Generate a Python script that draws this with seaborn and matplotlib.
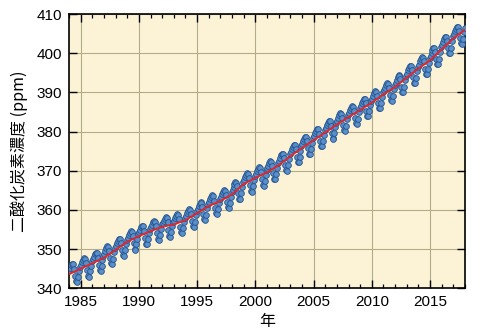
import numpy as np
import pandas as pd
import matplotlib
matplotlib.use("Agg")
import matplotlib.pyplot as plt
import seaborn as sns
from matplotlib.ticker import MultipleLocator

# ---- data ----
first_year = 1984
last_year = 2017
co2_monthly = [
    344.6, 345.3, 345.9, 346.3, 346.1, 345.0, 343.2, 341.8, 341.6, 342.9, 344.4, 345.5,  # 1984
    346.0, 346.7, 347.3, 347.7, 347.5, 346.4, 344.6, 343.2, 343.0, 344.3, 345.8, 346.9,  # 1985
    347.4, 348.1, 348.7, 349.1, 348.9, 347.8, 346.0, 344.6, 344.4, 345.7, 347.2, 348.3,  # 1986
    348.8, 349.6, 350.2, 350.7, 350.6, 349.5, 347.7, 346.4, 346.2, 347.6, 349.2, 350.3,  # 1987
    350.8, 351.6, 352.2, 352.7, 352.6, 351.6, 349.7, 348.4, 348.3, 349.7, 351.2, 352.4,  # 1988
    352.9, 353.6, 354.2, 354.6, 354.4, 353.3, 351.5, 350.1, 349.9, 351.2, 352.7, 353.8,  # 1989
    354.3, 355.0, 355.6, 356.0, 355.8, 354.7, 352.8, 351.4, 351.2, 352.5, 354.0, 355.2,  # 1990
    355.6, 356.2, 356.8, 357.2, 357.0, 355.9, 354.0, 352.6, 352.4, 353.7, 355.2, 356.3,  # 1991
    356.6, 357.3, 357.8, 358.2, 357.9, 356.8, 354.8, 353.4, 353.1, 354.4, 355.8, 356.9,  # 1992
    357.3, 357.9, 358.5, 358.9, 358.7, 357.6, 355.7, 354.3, 354.1, 355.4, 356.9, 358.0,  # 1993
    358.4, 359.1, 359.8, 360.2, 360.1, 359.0, 357.2, 355.8, 355.7, 357.0, 358.6, 359.7,  # 1994
    360.2, 360.9, 361.6, 362.0, 361.9, 360.8, 359.0, 357.6, 357.5, 358.8, 360.4, 361.5,  # 1995
    362.0, 362.7, 363.3, 363.7, 363.5, 362.4, 360.5, 359.1, 358.9, 360.2, 361.7, 362.9,  # 1996
    363.3, 364.0, 364.7, 365.1, 364.9, 363.9, 362.0, 360.7, 360.5, 361.9, 363.4, 364.5,  # 1997
    365.0, 365.8, 366.5, 367.1, 367.0, 366.0, 364.2, 362.9, 362.8, 364.3, 365.9, 367.1,  # 1998
    367.6, 368.3, 368.9, 369.4, 369.2, 368.1, 366.3, 364.9, 364.7, 366.1, 367.6, 368.7,  # 1999
    369.2, 369.9, 370.5, 370.9, 370.7, 369.6, 367.8, 366.4, 366.2, 367.5, 369.0, 370.1,  # 2000
    370.6, 371.3, 372.0, 372.4, 372.3, 371.2, 369.4, 368.0, 367.9, 369.2, 370.8, 371.9,  # 2001
    372.4, 373.2, 373.9, 374.4, 374.3, 373.3, 371.5, 370.1, 370.0, 371.4, 373.0, 374.2,  # 2002
    374.7, 375.5, 376.1, 376.6, 376.5, 375.5, 373.6, 372.3, 372.2, 373.6, 375.1, 376.3,  # 2003
    376.8, 377.6, 378.2, 378.7, 378.6, 377.5, 375.7, 374.4, 374.2, 375.6, 377.2, 378.3,  # 2004
    378.8, 379.6, 380.2, 380.7, 380.6, 379.5, 377.7, 376.4, 376.2, 377.6, 379.2, 380.3,  # 2005
    380.8, 381.6, 382.2, 382.7, 382.6, 381.5, 379.7, 378.4, 378.2, 379.6, 381.2, 382.3,  # 2006
    382.8, 383.5, 384.2, 384.7, 384.5, 383.5, 381.6, 380.3, 380.2, 381.5, 383.1, 384.2,  # 2007
    384.7, 385.4, 386.1, 386.5, 386.4, 385.3, 383.5, 382.1, 382.0, 383.3, 384.9, 386.0,  # 2008
    386.5, 387.2, 387.9, 388.4, 388.2, 387.2, 385.3, 384.0, 383.9, 385.2, 386.8, 387.9,  # 2009
    388.4, 389.2, 389.8, 390.3, 390.2, 389.2, 387.3, 386.0, 385.9, 387.3, 388.8, 390.0,  # 2010
    390.5, 391.2, 391.9, 392.4, 392.2, 391.2, 389.3, 388.0, 387.9, 389.2, 390.8, 391.9,  # 2011
    392.4, 393.2, 393.9, 394.4, 394.3, 393.3, 391.5, 390.2, 390.1, 391.5, 393.1, 394.3,  # 2012
    394.8, 395.6, 396.3, 396.8, 396.7, 395.7, 393.9, 392.5, 392.4, 393.8, 395.4, 396.6,  # 2013
    397.1, 397.9, 398.5, 399.0, 398.9, 397.9, 396.0, 394.7, 394.6, 396.0, 397.5, 398.7,  # 2014
    399.2, 400.1, 400.8, 401.3, 401.3, 400.3, 398.5, 397.3, 397.2, 398.6, 400.3, 401.5,  # 2015
    402.0, 402.9, 403.6, 404.1, 404.1, 403.1, 401.3, 400.1, 400.0, 401.4, 403.1, 404.3,  # 2016
    404.8, 405.6, 406.3, 406.7, 406.6, 405.6, 403.8, 402.5, 402.4, 403.7, 405.3, 406.5,  # 2017
]
trend_years = list(range(1984, 2019))
trend_values = [
    343.6, 345.0, 346.4, 347.8, 349.8, 351.9, 353.3, 354.6, 355.7, 356.3,
    357.4, 359.2, 361.0, 362.3, 364.0, 366.6, 368.2, 369.6, 371.4, 373.7,
    375.8, 377.8, 379.8, 381.8, 383.7, 385.5, 387.4, 389.5, 391.4, 393.8,
    396.1, 398.2, 401.0, 403.8, 406.0,
]
x_ticks = [1985, 1990, 1995, 2000, 2005, 2010, 2015]
y_ticks = [340, 350, 360, 370, 380, 390, 400, 410]
x_label = "年"
y_label = "二酸化炭素濃度 (ppm)"

# month positions (mid-month, decimal year)
n_years = last_year - first_year + 1
month_idx = np.tile(np.arange(12), n_years)
year_idx = np.repeat(np.arange(first_year, last_year + 1), 12)
df_m = pd.DataFrame({"t": year_idx + (month_idx + 0.5) / 12.0, "co2": co2_monthly})
df_t = pd.DataFrame({"t": trend_years, "co2": trend_values})

# ---- style ----
sns.set_theme(style="ticks")
plt.rcParams["font.family"] = ["Liberation Sans", "Noto Sans CJK JP", "DejaVu Sans"]

fig = plt.figure(figsize=(4.87, 3.35), dpi=100)
ax = fig.add_axes([0.1417, 0.1394, 0.9548 - 0.1417, 0.958 - 0.1394])
ax.set_facecolor("#fcf3d6")
ax.set_axisbelow(True)

sns.scatterplot(data=df_m, x="t", y="co2", ax=ax, s=17, color="#5a8fca",
                edgecolor="#24538f", linewidth=0.6, zorder=3, legend=False)
sns.lineplot(data=df_t, x="t", y="co2", ax=ax, color="#e2262c", linewidth=1.4,
             zorder=4, legend=False)

ax.set_xlim(1984, 2018)
ax.set_ylim(340, 410)
ax.set_xticks(x_ticks)
ax.set_yticks(y_ticks)
ax.xaxis.set_minor_locator(MultipleLocator(1))
ax.grid(True, which="major", color="#b3ab88", linewidth=0.8)

ax.tick_params(axis="both", which="major", direction="in", length=5.5, width=1.0,
               color="black", labelsize=11, pad=5, top=True, right=True,
               labelcolor="black")
ax.tick_params(axis="x", which="minor", direction="in", length=2.8, width=0.9,
               color="black", top=True, bottom=True)
ax.tick_params(axis="y", which="minor", left=False, right=False)
for sp in ax.spines.values():
    sp.set_visible(True)
    sp.set_color("black")
    sp.set_linewidth(1.2)

cjk = ["Noto Sans CJK JP", "DejaVu Sans"]
ax.set_xlabel(x_label, fontsize=11.5, family=cjk, labelpad=3, color="black")
ax.set_ylabel(y_label, fontsize=11.5, family=cjk, labelpad=6, color="black")

fig.savefig("out.png", dpi=100)
